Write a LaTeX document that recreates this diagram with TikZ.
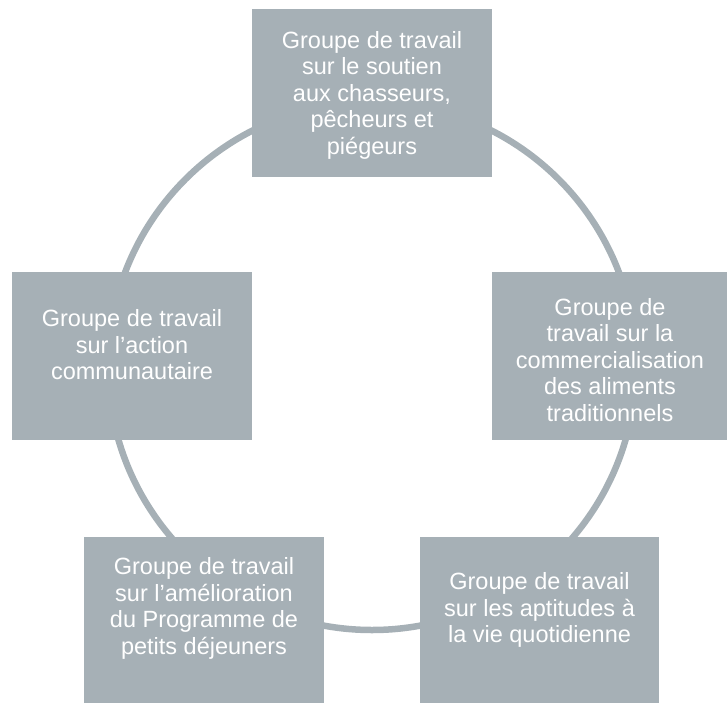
\documentclass[tikz,border=0pt]{standalone}
\usepackage{fontspec}
\setmainfont{Liberation Sans}
\definecolor{boxgray}{RGB}{166,176,182}
\begin{document}
\begin{tikzpicture}[x=1pt,y=-1pt,
  box/.style={fill=boxgray, draw=none, minimum width=240pt, minimum height=168pt, inner sep=0pt, anchor=north west},
  txt/.style={text=white, align=center, font=\fontsize{23.5pt}{26.5pt}\selectfont, inner sep=0pt},
  ring/.style={draw=boxgray, line width=6.5pt}]
\useasboundingbox (0,0) rectangle (727,703);
\coordinate (c) at (372,366);
\draw[ring] (c) circle[radius=264];
\node[box] (top) at (252,9) {};
\node[box, minimum width=240.4pt] (left) at (11.6,272) {};
\node[box, minimum width=235pt] (right) at (492,272) {};
\node[box, minimum height=166pt] (bl) at (84,537) {};
\node[box, minimum width=239pt, minimum height=166pt] (br) at (420,537) {};
\node[txt] (toptxt) at (372,95) {Groupe de travail\\sur le soutien\\aux chasseurs,\\pêcheurs et\\piégeurs};
\node[txt] (lefttxt) at (132,345) {Groupe de travail\\sur l’action\\communautaire};
\node[txt] (righttxt) at (610,360) {Groupe de\\travail sur la\\commercialisation\\des aliments\\traditionnels};
\node[txt] (bltxt) at (204,608.5) {Groupe de travail\\sur l’amélioration\\du Programme de\\petits déjeuners};
\node[txt] (brtxt) at (539.5,610) {Groupe de travail\\sur les aptitudes à\\la vie quotidienne};
\end{tikzpicture}
\end{document}
